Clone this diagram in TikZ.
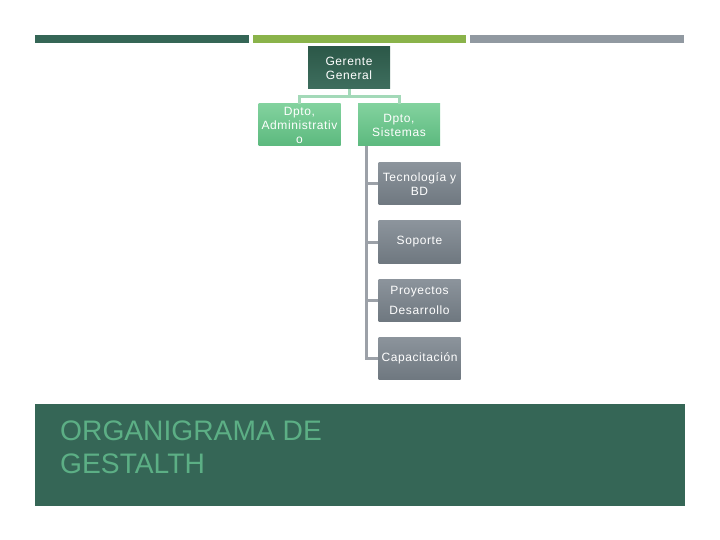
\documentclass[tikz,border=0pt]{standalone}
\usepackage{fontspec}
\setmainfont{Liberation Sans}
\definecolor{dkgreen}{HTML}{356656}
\definecolor{ltgreen}{HTML}{8AB34A}
\definecolor{barGray}{HTML}{9199A1}
\definecolor{conGreen}{HTML}{A3D9B8}
\definecolor{conGray}{HTML}{9CA1A8}
\definecolor{titleGreen}{HTML}{5CAF85}
\definecolor{ggTop}{HTML}{2C5848}
\definecolor{ggBot}{HTML}{3E6E5E}
\definecolor{grTop}{HTML}{82D29E}
\definecolor{grBot}{HTML}{5CB97E}
\definecolor{gyTop}{HTML}{8C949C}
\definecolor{gyBot}{HTML}{6F7880}
\tikzset{
  box/.style={minimum width=82pt, minimum height=42pt, inner sep=0pt, text width=82pt, align=center, text=white, font=\fontsize{12}{14}\selectfont\addfontfeatures{LetterSpace=5}},
  topbox/.style={box, top color=ggTop, bottom color=ggBot},
  greenbox/.style={box, top color=grTop, bottom color=grBot},
  graybox/.style={box, top color=gyTop, bottom color=gyBot},
  gcon/.style={draw=conGreen, line width=3pt},
  ycon/.style={draw=conGray, line width=3pt},
}
\begin{document}
\begin{tikzpicture}[x=1pt,y=-1pt]
\useasboundingbox (0,0) rectangle (720,540);
% top bars
\fill[dkgreen] (35,35) rectangle (249,43);
\fill[ltgreen] (253,35) rectangle (466,43);
\fill[barGray] (470,35) rectangle (684,43);
% bottom banner
\fill[dkgreen] (35,404) rectangle (685,506);
\node[anchor=north west, text=titleGreen, font=\fontsize{28.2}{33}\selectfont, align=left, inner sep=0pt] (title) at (60,421) {ORGANIGRAMA DE\\GESTALTH};
% nodes
\node[topbox] (gg) at (349,68) {Gerente\\General};
\node[greenbox] (adm) at (299.5,125) {Dpto,\\Administrativ\\o};
\node[greenbox] (sis) at (399,125) {Dpto,\\Sistemas};
\node[graybox] (tec) at (419.5,184) {Tecnología y\\BD};
\node[graybox] (sop) at (419.5,242) {Soporte};
\node[graybox] (pro) at (419.5,300) {Proyectos\\[6pt]Desarrollo};
\node[graybox] (cap) at (419.5,358) {Capacitación};
% connectors
\coordinate (j) at (349,97);
\draw[gcon] (gg.south) -- (j);
\draw[gcon] (adm.north) |- (j) -| (sis.north);
\coordinate (v) at (366,146);
\draw[ycon] (v) |- (cap.west);
\draw[ycon] (v |- tec.west) -- (tec.west);
\draw[ycon] (v |- sop.west) -- (sop.west);
\draw[ycon] (v |- pro.west) -- (pro.west);
\end{tikzpicture}
\end{document}
